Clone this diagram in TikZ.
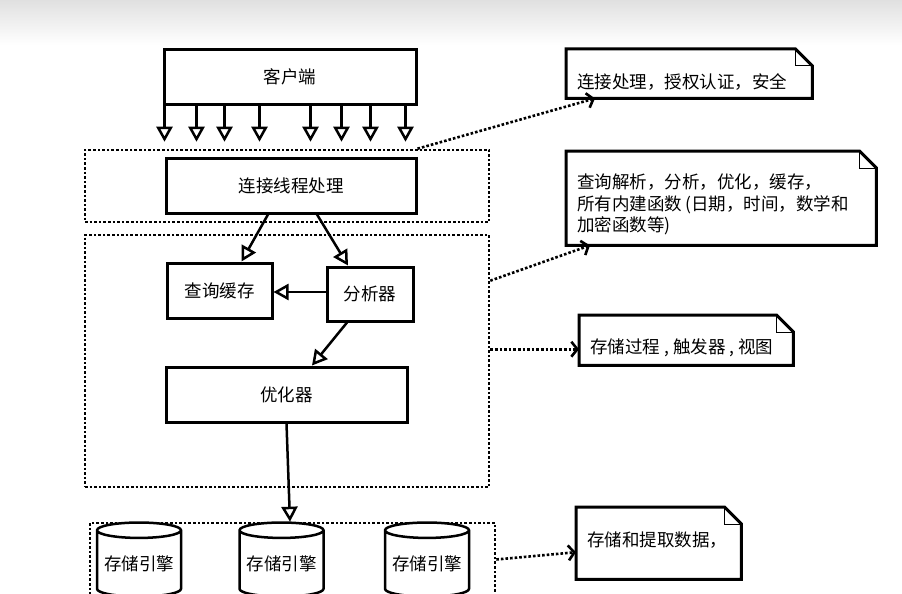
\documentclass[tikz,border=0pt]{standalone}
\usepackage{fontspec}
\setmainfont{Noto Sans CJK SC}
\usepackage{tikz}
\usetikzlibrary{positioning,arrows.meta,shapes.geometric,calc}

\begin{document}
\begin{tikzpicture}[x=1pt,y=-1pt,font=\fontsize{17.5}{21.5}\selectfont,
  box/.style={draw,line width=3pt,inner sep=0pt,minimum height=55pt},
  group/.style={draw,dotted,line width=2.6pt,inner sep=0pt},
  disk/.style={cylinder,shape border rotate=90,draw,line width=2.5pt,aspect=0.22,
               minimum width=84pt,minimum height=74pt,inner sep=0pt},
  note/.style={anchor=north west,inner xsep=11pt,inner ysep=0pt,align=left},
  notefold/.style={line width=3pt,line join=miter},
  flow/.style={line width=2.5pt,-{Triangle[open,length=15pt,width=16pt,line width=2.5pt]}},
  noteline/.style={dotted,line width=2.6pt,-{Straight Barb[length=6pt,width=15pt,line width=2.6pt]}}]
\useasboundingbox (0,0) rectangle (902,594);
\clip (0,0) rectangle (902,594);
\shade[top color=black!12,bottom color=white] (0,0) rectangle (902,45);

% server side groups
\node[group,minimum width=404pt,minimum height=72pt] (g1) at (287,186) {};
\node[group,minimum width=404pt,minimum height=252pt] (g2) at (287,361) {};
\node[group,minimum width=405pt,minimum height=73pt] (g3) at (292.5,559.5) {};

\node[box,minimum width=252pt,minimum height=54pt] (client) at (290,77) {客户端};
\node[box,minimum width=250pt] (thread) at (291,185.5) {连接线程处理};
\node[box,minimum width=105pt] (cache) at (219.5,290.5) {查询缓存};
\node[box,minimum width=86pt,minimum height=54pt] (parser) at (370,294) {分析器};
\node[box,minimum width=241pt] (optim) at (286.5,394.5) {优化器};

\node[disk] (e1) at (139,564) {存储引擎};
\node[disk] (e2) at (281.5,564) {存储引擎};
\node[disk] (e3) at (427,564) {存储引擎};

% notes
\node[note,text width=224pt,text height=39pt,text depth=10pt] (n1) at (566,49)
  {连接处理，授权认证，安全};
\node[note,text width=288pt,text height=37.5pt,text depth=56.5pt] (n2) at (566,151)
  {查询解析，分析，优化，缓存，\\所有内建函数\kern3pt(日期，时间，数学和\\加密函数等)};
\node[note,text width=192pt,text height=38.5pt,text depth=11.5pt] (n3) at (579,315)
  {存储过程\kern4pt,\kern4pt 触发器\kern4pt,\kern4pt 视图};
\node[note,text width=143pt,text height=39.5pt,text depth=32.5pt] (n4) at (576,507)
  {存储和提取数据，};
\foreach \n in {n1,n2,n3,n4}
  \draw[notefold] (\n.south west) -- (\n.north west) -- ([xshift=-17pt]\n.north east)
    -- ([yshift=-17pt]\n.north east) -- (\n.south east) -- cycle
    ([xshift=-17pt]\n.north east) edge[line width=1pt,to path={|- (\tikztotarget)}] ([yshift=-17pt]\n.north east);

% connections
\foreach \d in {2,34,62,97,148,179,208,243}
  \draw[flow,shorten >=7pt] ([xshift=\d pt]client.south west) -- ([xshift=\d pt]client.south west |- g1.north);
\draw[flow] ([xshift=-23pt]thread.south) -- ([xshift=22pt]cache.north);
\draw[flow] ([xshift=26pt]thread.south) -- ([xshift=-22pt]parser.north);
\draw[flow] ([yshift=2pt]parser.west) -- ([yshift=2pt]parser.west -| cache.east);
\draw[flow] ([xshift=-23pt]parser.south) -- ([xshift=25.5pt]optim.north);
\draw[flow] (optim.south) -- ([xshift=-2.5pt]g3.north);

\coordinate (t3) at ([yshift=-9pt]n3.west);
\coordinate (t4) at ([yshift=-9pt]n4.west);
\draw[noteline] (g1.north -| thread.east) -- ([xshift=29pt]n1.south west);
\draw[noteline] ([yshift=-47pt]g2.north east) -- ([xshift=24pt]n2.south west);
\draw[noteline] (t3 -| g2.east) -- (t3);
\draw[noteline] (g3.east) -- (t4);
\end{tikzpicture}
\end{document}
